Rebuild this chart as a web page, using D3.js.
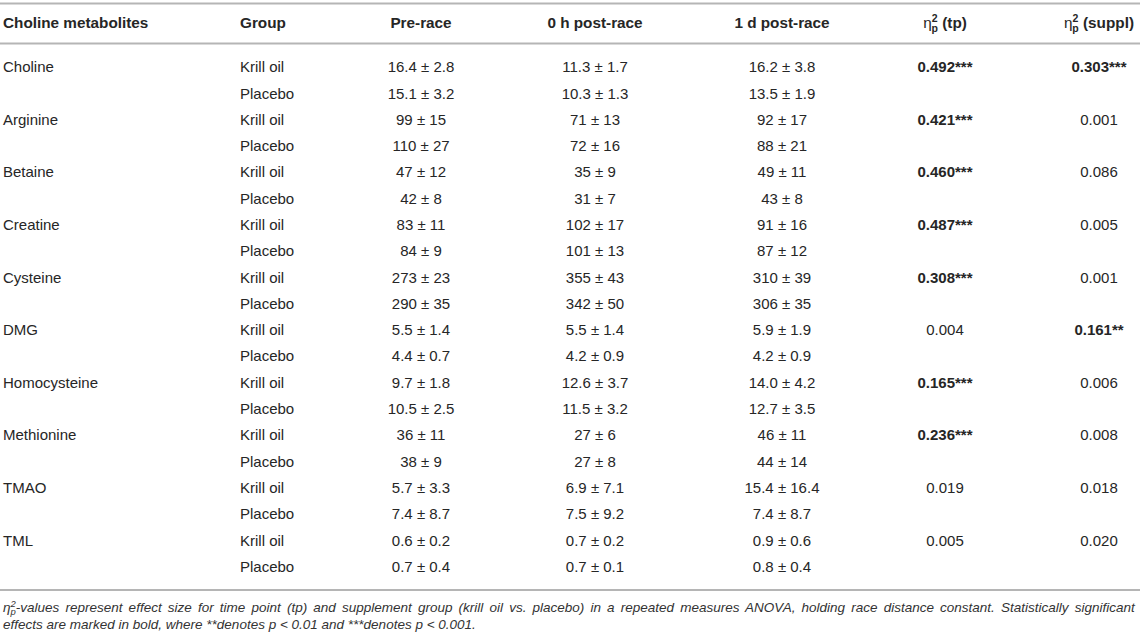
<!DOCTYPE html>
<meta charset="utf-8">
<script src="https://d3js.org/d3.v7.min.js"></script>
<style>
  body { margin: 0; background: #fff; }
  text { font-family: "Liberation Sans", Arial, sans-serif; fill: #262626; }
</style>
<div id="table"></div>
<script>

// ----------------- //
// Data
// ----------------- //
var metabolites = ["Choline", "Arginine", "Betaine", "Creatine", "Cysteine",
                   "DMG", "Homocysteine", "Methionine", "TMAO", "TML"]
var groups = ["Krill oil", "Placebo"]

// mean ± sd, krill oil then placebo for each metabolite
var preRace = ["16.4 ± 2.8", "15.1 ± 3.2", "99 ± 15", "110 ± 27", "47 ± 12", "42 ± 8",
               "83 ± 11", "84 ± 9", "273 ± 23", "290 ± 35", "5.5 ± 1.4", "4.4 ± 0.7",
               "9.7 ± 1.8", "10.5 ± 2.5", "36 ± 11", "38 ± 9", "5.7 ± 3.3", "7.4 ± 8.7",
               "0.6 ± 0.2", "0.7 ± 0.4"]
var post0h = ["11.3 ± 1.7", "10.3 ± 1.3", "71 ± 13", "72 ± 16", "35 ± 9", "31 ± 7",
              "102 ± 17", "101 ± 13", "355 ± 43", "342 ± 50", "5.5 ± 1.4", "4.2 ± 0.9",
              "12.6 ± 3.7", "11.5 ± 3.2", "27 ± 6", "27 ± 8", "6.9 ± 7.1", "7.5 ± 9.2",
              "0.7 ± 0.2", "0.7 ± 0.1"]
var post1d = ["16.2 ± 3.8", "13.5 ± 1.9", "92 ± 17", "88 ± 21", "49 ± 11", "43 ± 8",
              "91 ± 16", "87 ± 12", "310 ± 39", "306 ± 35", "5.9 ± 1.9", "4.2 ± 0.9",
              "14.0 ± 4.2", "12.7 ± 3.5", "46 ± 11", "44 ± 14", "15.4 ± 16.4", "7.4 ± 8.7",
              "0.9 ± 0.6", "0.8 ± 0.4"]

// partial eta squared, one per metabolite, with significance stars
var etaTp = ["0.492", "0.421", "0.460", "0.487", "0.308", "0.004", "0.165", "0.236", "0.019", "0.005"]
var etaTpStars = ["***", "***", "***", "***", "***", "", "***", "***", "", ""]
var etaSuppl = ["0.303", "0.001", "0.086", "0.005", "0.001", "0.161", "0.006", "0.008", "0.018", "0.020"]
var etaSupplStars = ["***", "", "", "", "", "**", "", "", "", ""]

var headers = ["Choline metabolites", "Group", "Pre-race", "0 h post-race", "1 d post-race"]

// ----------------- //
// Layout
// ----------------- //
var width = 1142, height = 639
var svg = d3.select("#table").append("svg")
    .attr("width", width).attr("height", height)

// one row per metabolite x group
var rows = []
metabolites.forEach(function(m, i) {
  groups.forEach(function(g, j) {
    rows.push({metab: j === 0 ? m : "", group: g, k: i * 2 + j, i: i, first: j === 0})
  })
})

var y = d3.scalePoint()
    .domain(d3.range(rows.length))
    .range([67, 566.5])

var fs = 15
var lineColor = "#b5b5b5"

// rules
function rule(yy) {
  svg.append("line").attr("x1", 0).attr("x2", 1140)
    .attr("y1", yy).attr("y2", yy)
    .attr("stroke", lineColor).attr("stroke-width", 1.8)
}
rule(3.5); rule(43.5); rule(590)

// header
var colX = [3, 240, 421, 595, 782]
var colAnchor = ["start", "start", "middle", "middle", "middle"]
headers.forEach(function(h, c) {
  svg.append("text").attr("x", colX[c]).attr("y", 28)
    .attr("text-anchor", colAnchor[c])
    .style("font-size", "15.3px").style("font-weight", "bold")
    .text(h)
})

function etaHeader(x, label) {
  var t = svg.append("text").attr("x", x).attr("y", 28)
    .attr("text-anchor", "middle")
    .style("font-size", "15.3px").style("font-weight", "bold")
  t.append("tspan").text("η").style("font-weight", "normal")
  t.append("tspan").text("2").attr("dy", -6).style("font-size", "10.5px")
  t.append("tspan").text("p").attr("dx", -6).attr("dy", 9.5).style("font-size", "10.5px")
  t.append("tspan").text(" " + label).attr("dy", -3.5)
}
etaHeader(945, "(tp)")
etaHeader(1099, "(suppl)")

// body cells
function cell(x, anchor, accessor, boldFn) {
  svg.selectAll(null)
    .data(rows)
    .enter()
    .append("text")
      .attr("x", x)
      .attr("y", function(d) { return y(d.k) + 5.3 })
      .attr("text-anchor", anchor)
      .style("font-size", fs + "px")
      .style("font-weight", function(d) { return boldFn && boldFn(d) ? "bold" : "normal" })
      .text(accessor)
}
cell(3, "start", function(d) { return d.metab })
cell(240, "start", function(d) { return d.group })
cell(421, "middle", function(d) { return preRace[d.k] })
cell(595, "middle", function(d) { return post0h[d.k] })
cell(782, "middle", function(d) { return post1d[d.k] })
cell(945, "middle",
  function(d) { return d.first ? etaTp[d.i] + etaTpStars[d.i] : "" },
  function(d) { return etaTpStars[d.i] !== "" })
cell(1099, "middle",
  function(d) { return d.first ? etaSuppl[d.i] + etaSupplStars[d.i] : "" },
  function(d) { return etaSupplStars[d.i] !== "" })

// footnote
var note1 = svg.append("text").attr("x", 3).attr("y", 612)
    .style("font-size", "13.5px").style("font-style", "italic").style("fill", "#333")
note1.append("tspan").text("η")
note1.append("tspan").text("2").attr("dy", -5.5).style("font-size", "9.5px")
note1.append("tspan").text("p").attr("dx", -5.3).attr("dy", 8.5).style("font-size", "9.5px")
note1.append("tspan").attr("dy", -3)
  .text("-values represent effect size for time point (tp) and supplement group (krill oil vs. placebo) in a repeated measures ANOVA, holding race distance constant. Statistically significant")

// justify the first line to the full width
var len = note1.node().getComputedTextLength()
var nSpaces = note1.text().split(" ").length - 1
note1.style("word-spacing", Math.max(0, (1140 - 3 - len) / nSpaces) + "px")

svg.append("text").attr("x", 3).attr("y", 629)
  .style("font-size", "13.5px").style("font-style", "italic").style("fill", "#333")
  .text("effects are marked in bold, where **denotes p < 0.01 and ***denotes p < 0.001.")

</script>
